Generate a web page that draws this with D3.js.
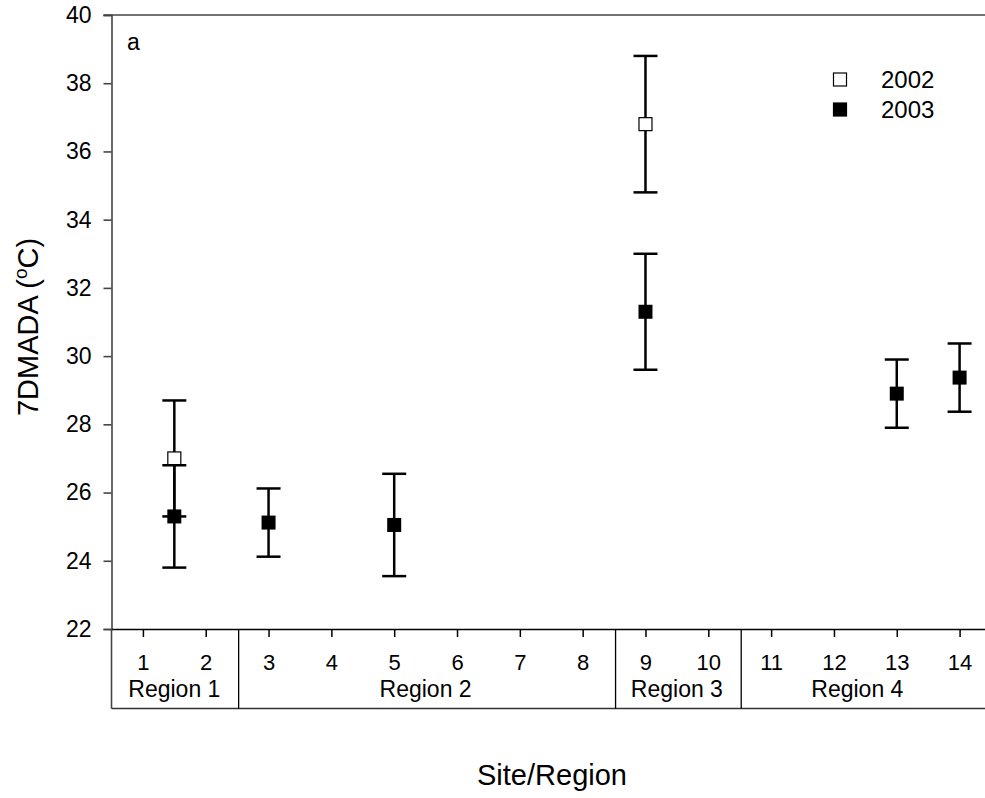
<!DOCTYPE html>
<html>
<head>
<meta charset="utf-8">
<script src="https://cdn.jsdelivr.net/npm/d3@7"></script>
<style>
  body { margin: 0; background: #fff; }
  svg { font-family: "Liberation Sans", Arial, sans-serif; }
</style>
</head>
<body>
<div id="chart"></div>
<script>
// data (mean and +/- error)
const sites = [1, 2, 3, 4, 5, 6, 7, 8, 9, 10, 11, 12, 13, 14];
const yTicks = [22, 24, 26, 28, 30, 32, 34, 36, 38, 40];
const series2002 = [
    { site: 1.5, mean: 27.0, err: 1.7 },
    { site: 9, mean: 36.8, err: 2.0 }
];
const series2003 = [
    { site: 1.5, mean: 25.3, err: 1.5 },
    { site: 3, mean: 25.12, err: 1.0 },
    { site: 5, mean: 25.05, err: 1.5 },
    { site: 9, mean: 31.3, err: 1.7 },
    { site: 13, mean: 28.9, err: 1.0 },
    { site: 14, mean: 29.37, err: 1.0 }
];
const regions = [
    { name: "Region 1", from: 0.5, to: 2.5 },
    { name: "Region 2", from: 2.5, to: 8.5 },
    { name: "Region 3", from: 8.5, to: 10.5 },
    { name: "Region 4", from: 10.5, to: 14.5 }
];
const legendItems = [
    { label: "2002", fill: "#fff" },
    { label: "2003", fill: "#000" }
];

const width = 985, height = 798;
const plotLeft = 111.5, plotTop = 15, plotBottom = 629, boxBottom = 708.5;
const fontSize = 23;
const titleSize = 29;

const svg = d3.select("#chart").append("svg")
    .attr("width", width)
    .attr("height", height);

const xScale = d3.scaleLinear()
    .domain([0.5, 14.5])
    .range([plotLeft, 991]);

const yScale = d3.scaleLinear()
    .domain([22, 40])
    .range([plotBottom, plotTop]);

// y axis
const yAxis = svg.append("g")
    .attr("transform", `translate(${plotLeft}, 0)`)
    .call(d3.axisLeft(yScale).tickValues(yTicks).tickSize(8).tickPadding(12));
yAxis.select(".domain").attr("stroke", "#444").attr("stroke-width", 1.6);
yAxis.selectAll(".tick line").attr("stroke", "#444").attr("stroke-width", 1.6);
yAxis.selectAll("text").attr("font-size", fontSize).attr("fill", "#000")
    .attr("font-family", "Liberation Sans, Arial, sans-serif");

// top frame line
svg.append("line")
    .attr("x1", plotLeft - 8).attr("x2", width)
    .attr("y1", yScale(40)).attr("y2", yScale(40))
    .attr("stroke", "#444").attr("stroke-width", 1.6);

// x axis
const xAxis = svg.append("g")
    .attr("transform", `translate(0, ${plotBottom})`)
    .call(d3.axisBottom(xScale).tickValues(sites).tickSize(8).tickPadding(17).tickSizeOuter(0));
xAxis.select(".domain").attr("stroke", "#000").attr("stroke-width", 1.5);
xAxis.selectAll(".tick line").attr("stroke", "#000").attr("stroke-width", 1.5);
xAxis.selectAll("text").attr("font-size", 22).attr("fill", "#000")
    .attr("font-family", "Liberation Sans, Arial, sans-serif");

// left axis continues down to the region box
svg.append("line")
    .attr("x1", plotLeft).attr("x2", plotLeft)
    .attr("y1", plotBottom).attr("y2", boxBottom)
    .attr("stroke", "#444").attr("stroke-width", 1.6);

// region box
svg.append("line")
    .attr("x1", plotLeft).attr("x2", width)
    .attr("y1", boxBottom).attr("y2", boxBottom)
    .attr("stroke", "#333").attr("stroke-width", 1.5);

svg.selectAll("line.divider")
    .data(regions.slice(1))
    .enter().append("line")
    .attr("class", "divider")
    .attr("x1", (d) => xScale(d.from) + 1.5).attr("x2", (d) => xScale(d.from) + 1.5)
    .attr("y1", plotBottom).attr("y2", boxBottom)
    .attr("stroke", "#000").attr("stroke-width", 1.3);

svg.selectAll("text.region")
    .data(regions)
    .enter().append("text")
    .attr("class", "region")
    .attr("x", (d) => (xScale(d.from) + Math.min(xScale(d.to), 975)) / 2)
    .attr("y", 697)
    .attr("text-anchor", "middle")
    .attr("font-size", fontSize)
    .text((d) => d.name);

// error bars
const capHalf = 12;
function drawSeries(data) {
    const g = svg.append("g");
    const bars = g.selectAll("g.bar")
        .data(data)
        .enter().append("g")
        .attr("class", "bar");

    bars.append("line")
        .attr("x1", (d) => xScale(d.site)).attr("x2", (d) => xScale(d.site))
        .attr("y1", (d) => yScale(d.mean + d.err)).attr("y2", (d) => yScale(d.mean - d.err))
        .attr("stroke", "#000").attr("stroke-width", 2.5);

    [1, -1].forEach((s) => {
        bars.append("line")
            .attr("x1", (d) => xScale(d.site) - capHalf).attr("x2", (d) => xScale(d.site) + capHalf)
            .attr("y1", (d) => yScale(d.mean + s * d.err)).attr("y2", (d) => yScale(d.mean + s * d.err))
            .attr("stroke", "#000").attr("stroke-width", 2.5);
    });
    return bars;
}
const bars2002 = drawSeries(series2002);
const bars2003 = drawSeries(series2003);

bars2002.append("rect")
    .attr("x", (d) => xScale(d.site) - 6.5).attr("y", (d) => yScale(d.mean) - 6.5)
    .attr("width", 13).attr("height", 13)
    .attr("fill", "#fff").attr("stroke", "#000").attr("stroke-width", 1.2);

bars2003.append("rect")
    .attr("x", (d) => xScale(d.site) - 7).attr("y", (d) => yScale(d.mean) - 7)
    .attr("width", 14).attr("height", 14)
    .attr("fill", "#000");

// panel letter
svg.append("text")
    .attr("x", 127).attr("y", 50)
    .attr("font-size", fontSize)
    .text("a");

// legend
const legend = svg.selectAll("g.legend")
    .data(legendItems)
    .enter().append("g")
    .attr("class", "legend")
    .attr("transform", (d, i) => `translate(840, ${79.5 + i * 30})`);
legend.append("rect")
    .attr("x", -6.5).attr("y", -6.5)
    .attr("width", 13).attr("height", 13)
    .attr("fill", (d) => d.fill).attr("stroke", "#000").attr("stroke-width", 1.2);
legend.append("text")
    .attr("x", 41).attr("y", 8.5)
    .attr("font-size", 24)
    .text((d) => d.label);

// axis titles
const yTitle = svg.append("text")
    .attr("transform", `translate(38, 327) rotate(-90)`)
    .attr("text-anchor", "middle")
    .attr("font-size", titleSize);
yTitle.append("tspan").text("7DMADA (");
yTitle.append("tspan").attr("font-size", 19).attr("dy", -11).text("o");
yTitle.append("tspan").attr("dy", 11).text("C)");

svg.append("text")
    .attr("x", 552).attr("y", 785)
    .attr("text-anchor", "middle")
    .attr("font-size", titleSize)
    .text("Site/Region");
</script>
</body>
</html>
